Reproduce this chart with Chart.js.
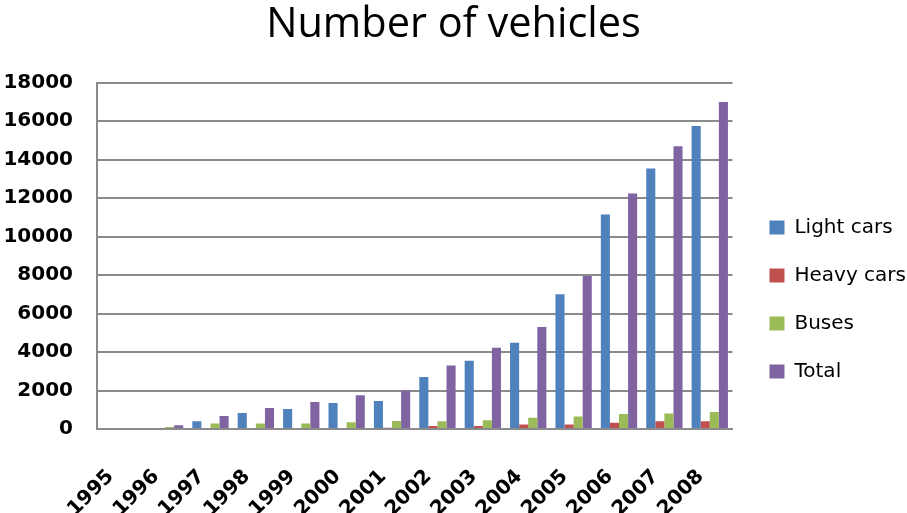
<!DOCTYPE html>
<html>
<head>
<meta charset="utf-8">
<script src="https://cdn.jsdelivr.net/npm/chart.js@4"></script>
<style>
  html, body { margin: 0; padding: 0; background: #fff; }
  #wrap { width: 907px; height: 513px; position: relative; }
</style>
</head>
<body>
<div id="wrap"><canvas id="myChart"></canvas></div>
<script>
const years = ["1995", "1996", "1997", "1998", "1999", "2000", "2001", "2002", "2003", "2004", "2005", "2006", "2007", "2008"];
const lightCars = [0, 0, 400, 830, 1040, 1350, 1450, 2700, 3550, 4480, 7000, 11150, 13550, 15750];
const heavyCars = [0, 0, 0, 0, 0, 50, 60, 150, 150, 230, 230, 320, 400, 400];
const buses = [0, 100, 280, 280, 280, 350, 420, 400, 460, 580, 650, 780, 800, 880];
const total = [0, 200, 680, 1090, 1400, 1760, 2000, 3300, 4220, 5300, 7950, 12250, 14700, 17000];
const yTicks = [0, 2000, 4000, 6000, 8000, 10000, 12000, 14000, 16000, 18000];

const ctx = document.querySelector("#myChart");
const tickFont = "'DejaVu Sans', sans-serif";

// nudge the legend block to where the original puts it
const legendShift = {
    id: 'legendShift',
    afterLayout(chart) {
        const lg = chart.legend;
        lg.left += 9; lg.right += 9;
        lg.top += 43; lg.bottom += 43;
    }
};

const chart = new Chart(ctx, {
    type: 'bar',
    data: {
        labels: years,
        datasets: [
            { label: 'Light cars', data: lightCars, backgroundColor: '#4F81BD' },
            { label: 'Heavy cars', data: heavyCars, backgroundColor: '#C0504D' },
            { label: 'Buses', data: buses, backgroundColor: '#9BBB59' },
            { label: 'Total', data: total, backgroundColor: '#8064A2' }
        ]
    },
    plugins: [legendShift],
    options: {
        responsive: true,
        maintainAspectRatio: false,
        animation: false,
        layout: { padding: 0 },
        datasets: { bar: { barPercentage: 1, categoryPercentage: 0.8 } },
        plugins: {
            title: {
                display: true,
                text: 'Number of vehicles',
                color: '#000',
                font: { family: "'Open Sans', sans-serif", size: 41.5, weight: 'normal' },
                padding: { top: 0, bottom: 33 }
            },
            legend: {
                position: 'right',
                maxWidth: 175,
                labels: {
                    color: '#000',
                    boxWidth: 15,
                    boxHeight: 14,
                    padding: 28,
                    font: { family: tickFont, size: 20 }
                }
            },
            tooltip: { enabled: false }
        },
        scales: {
            x: {
                grid: { display: false, drawTicks: false },
                border: { color: '#8a8a8a', width: 2 },
                ticks: {
                    color: '#000',
                    minRotation: 45,
                    maxRotation: 45,
                    labelOffset: -9,
                    padding: 36,
                    font: { family: tickFont, size: 20, weight: 'bold' }
                },
                afterFit: (scale) => { scale.height = 84; }
            },
            y: {
                min: 0,
                max: 18000,
                afterBuildTicks: (scale) => { scale.ticks = yTicks.map(v => ({ value: v })); },
                grid: { color: '#8a8a8a', lineWidth: 2, drawTicks: false },
                border: { color: '#8a8a8a', width: 2 },
                ticks: {
                    color: '#000',
                    padding: 24,
                    callback: (v) => String(v),
                    font: { family: tickFont, size: 20, weight: 'bold' }
                },
                afterFit: (scale) => { scale.width = 97; }
            }
        }
    }
});
</script>
</body>
</html>
